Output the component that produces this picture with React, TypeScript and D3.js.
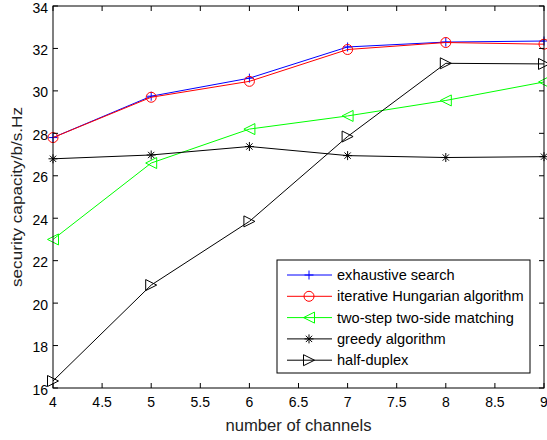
import { useEffect } from 'react';
import * as d3 from 'd3';

// number of channels on x, capacity on y
const channels = [4, 5, 6, 7, 8, 9];
const exhaustive = [27.8, 29.75, 30.6, 32.07, 32.3, 32.35];
const hungarian = [27.8, 29.7, 30.45, 31.95, 32.28, 32.2];
const twoStep = [23.0, 26.6, 28.2, 28.82, 29.55, 30.42];
const greedy = [26.8, 26.98, 27.38, 26.95, 26.86, 26.9];
const halfDuplex = [16.33, 20.85, 23.85, 27.85, 31.3, 31.27];

const xTicks = [4, 4.5, 5, 5.5, 6, 6.5, 7, 7.5, 8, 8.5, 9];
const yTicks = [16, 18, 20, 22, 24, 26, 28, 30, 32, 34];

const seriesNames = [
  'exhaustive search',
  'iterative Hungarian algorithm',
  'two-step two-side matching',
  'greedy algorithm',
  'half-duplex',
];
const seriesValues = [exhaustive, hungarian, twoStep, greedy, halfDuplex];
const seriesColors = ['#0000ff', '#ff0000', '#00ff00', '#000000', '#000000'];
const seriesMarkers = ['plus', 'circle', 'left', 'star', 'right'];

const W = 547;
const H = 440;
const M = { left: 53, right: 544, top: 6, bottom: 388 };
const FONT = 'Arial, "Liberation Sans", Helvetica, sans-serif';

function Marker({ kind, x, y, color }: { kind: string; x: number; y: number; color: string }) {
  const s = 4.5;
  if (kind === 'plus') {
    return (
      <path d={`M${x - s},${y}H${x + s}M${x},${y - s}V${y + s}`} stroke={color} strokeWidth={1} fill="none" />
    );
  }
  if (kind === 'circle') {
    return <circle cx={x} cy={y} r={5} stroke={color} strokeWidth={1} fill="none" />;
  }
  if (kind === 'star') {
    const d = s * 0.7;
    return (
      <path
        d={`M${x - s},${y}H${x + s}M${x},${y - s}V${y + s}M${x - d},${y - d}L${x + d},${y + d}M${x - d},${y + d}L${x + d},${y - d}`}
        stroke={color}
        strokeWidth={1}
        fill="none"
      />
    );
  }
  const t = 5.5;
  if (kind === 'left') {
    return (
      <path d={`M${x - t},${y}L${x + t},${y - t}L${x + t},${y + t}Z`} stroke={color} strokeWidth={1} fill="none" />
    );
  }
  return (
    <path d={`M${x + t},${y}L${x - t},${y - t}L${x - t},${y + t}Z`} stroke={color} strokeWidth={1} fill="none" />
  );
}

export default function App() {
  useEffect(() => {
    document.body.style.margin = '0';
  }, []);

  const x = d3.scaleLinear().domain([4, 9]).range([M.left, M.right]);
  const y = d3.scaleLinear().domain([16, 34]).range([M.bottom, M.top]);

  const line = d3
    .line<number>()
    .x((_, i) => x(channels[i]))
    .y((d) => y(d));

  const tickLen = 5;

  // legend box
  const lg = { x: 277, y: 260, w: 253, h: 113, row: 21.3 };

  return (
    <svg width={W} height={H} style={{ display: 'block', background: '#fff' }} fontFamily={FONT}>
      {/* series */}
      {seriesValues.map((vals, si) => (
        <g key={si}>
          <path d={line(vals) || ''} fill="none" stroke={seriesColors[si]} strokeWidth={1} />
          {vals.map((v, i) => (
            <Marker key={i} kind={seriesMarkers[si]} x={x(channels[i])} y={y(v)} color={seriesColors[si]} />
          ))}
        </g>
      ))}

      {/* axes box */}
      <rect
        x={M.left}
        y={M.top}
        width={M.right - M.left}
        height={M.bottom - M.top}
        fill="none"
        stroke="#000"
        strokeWidth={1}
      />
      {xTicks.map((t) => (
        <g key={'x' + t}>
          <line x1={x(t)} x2={x(t)} y1={M.bottom} y2={M.bottom - tickLen} stroke="#000" />
          <line x1={x(t)} x2={x(t)} y1={M.top} y2={M.top + tickLen} stroke="#000" />
          <text x={x(t)} y={M.bottom + 19} fontSize={14} textAnchor="middle" fill="#000">
            {t}
          </text>
        </g>
      ))}
      {yTicks.map((t) => (
        <g key={'y' + t}>
          <line x1={M.left} x2={M.left + tickLen} y1={y(t)} y2={y(t)} stroke="#000" />
          <line x1={M.right} x2={M.right - tickLen} y1={y(t)} y2={y(t)} stroke="#000" />
          <text x={M.left - 5} y={y(t) + 6.5} fontSize={14} textAnchor="end" fill="#000">
            {t}
          </text>
        </g>
      ))}

      <text
        x={(M.left + M.right) / 2}
        y={430.5}
        fontSize={16}
        textAnchor="middle"
        fill="#222"
        textLength={146}
        lengthAdjust="spacingAndGlyphs"
      >
        number of channels
      </text>
      <text
        transform={`translate(21.5,197) rotate(-90)`}
        fontSize={15.5}
        textAnchor="middle"
        fill="#222"
        textLength={180}
        lengthAdjust="spacingAndGlyphs"
      >
        security capacity/b/s.Hz
      </text>

      {/* legend */}
      <rect x={lg.x} y={lg.y} width={lg.w} height={lg.h} fill="#fff" stroke="#000" strokeWidth={1} />
      {seriesNames.map((name, i) => {
        const ry = lg.y + 15 + i * lg.row;
        return (
          <g key={name}>
            <line x1={lg.x + 10} x2={lg.x + 55} y1={ry} y2={ry} stroke={seriesColors[i]} />
            <Marker kind={seriesMarkers[i]} x={lg.x + 32} y={ry} color={seriesColors[i]} />
            <text x={lg.x + 60} y={ry + 5} fontSize={14.6} fill="#000">
              {name}
            </text>
          </g>
        );
      })}
    </svg>
  );
}
